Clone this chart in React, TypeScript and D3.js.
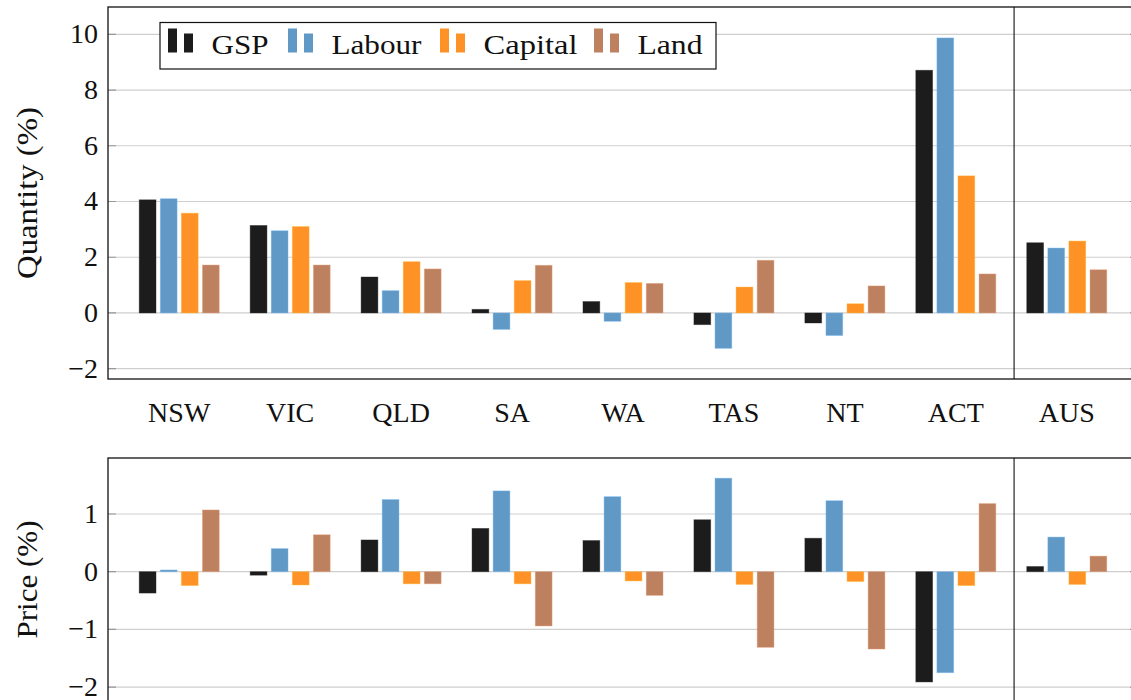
import { useRef, useEffect } from 'react'
import * as d3 from 'd3'

// regions along the x axis, AUS is split off by a vertical rule
const regions = ['NSW', 'VIC', 'QLD', 'SA', 'WA', 'TAS', 'NT', 'ACT', 'AUS']
const seriesNames = ['GSP', 'Labour', 'Capital', 'Land']
const colours = ['#1c1c1c', '#6098c6', '#fe9227', '#bd8160']

// top panel: quantity (%)
const quantityGSP = [4.06, 3.14, 1.29, 0.13, 0.41, -0.42, -0.36, 8.71, 2.52]
const quantityLabour = [4.1, 2.95, 0.8, -0.59, -0.3, -1.27, -0.81, 9.87, 2.33]
const quantityCapital = [3.58, 3.1, 1.84, 1.16, 1.09, 0.93, 0.33, 4.92, 2.58]
const quantityLand = [1.72, 1.72, 1.58, 1.71, 1.06, 1.89, 0.97, 1.4, 1.55]

// bottom panel: price (%)
const priceGSP = [-0.37, -0.06, 0.55, 0.75, 0.54, 0.9, 0.58, -1.91, 0.09]
const priceLabour = [0.03, 0.4, 1.25, 1.4, 1.3, 1.62, 1.23, -1.75, 0.6]
const priceCapital = [-0.24, -0.23, -0.21, -0.21, -0.16, -0.22, -0.17, -0.24, -0.22]
const priceLand = [1.07, 0.64, -0.21, -0.94, -0.41, -1.31, -1.34, 1.18, 0.27]

const quantityTicks = [-2, 0, 2, 4, 6, 8, 10]
const priceTicks = [-2, -1, 0, 1]

const font = '"Liberation Serif", "Times New Roman", serif'

const App = () => {
    const svgRef = useRef<SVGSVGElement>(null)

    useEffect(() => {
        const w = 1131
        const h = 700
        const svg = d3.select(svgRef.current)
            .attr('width', w)
            .attr('height', h)
        svg.selectAll('*').remove()

        const left = 108
        const right = 1138
        const x = d3.scaleLinear().domain([-0.642, 8.642]).range([left, right])
        // offset of each series inside a group, in category units
        const offset = d3.scaleLinear().domain([0, 3]).range([-0.285, 0.285])
        const halfBar = 0.0757

        const drawPanel = (
            top: number, bottom: number, domain: [number, number],
            ticks: number[], values: number[][], label: string, labelLen: number, showCats: boolean
        ) => {
            const y = d3.scaleLinear().domain(domain).range([bottom, top])
            const g = svg.append('g')

            // grid
            g.selectAll('.grid')
                .data(ticks)
                .join('line')
                .attr('x1', left).attr('x2', right)
                .attr('y1', d => y(d)).attr('y2', d => y(d))
                .attr('stroke', '#cfcfcf')
                .attr('stroke-width', 1.2)

            // bars
            values.forEach((vals, j) => {
                g.selectAll(null)
                    .data(vals)
                    .join('rect')
                    .attr('x', (d, i) => x(i + offset(j) - halfBar))
                    .attr('width', x(halfBar * 2) - x(0))
                    .attr('y', d => Math.min(y(d), y(0)))
                    .attr('height', d => Math.abs(y(d) - y(0)))
                    .attr('fill', colours[j])
                    .attr('stroke', d3.color(colours[j])!.brighter(0.6).formatHex())
                    .attr('stroke-opacity', 0.5)
                    .attr('stroke-width', 0.8)
            })

            // ticks, both sides, pointing inward
            g.selectAll(null)
                .data(ticks)
                .join('path')
                .attr('d', d => `M${left},${y(d)}h8M${right},${y(d)}h-8`)
                .attr('stroke', '#999')
                .attr('stroke-width', 1.2)

            // frame + separator before AUS
            g.append('rect')
                .attr('x', left).attr('y', top)
                .attr('width', right - left).attr('height', bottom - top)
                .attr('fill', 'none')
                .attr('stroke', '#111')
                .attr('stroke-width', 1.3)
            g.append('line')
                .attr('x1', x(7.525)).attr('x2', x(7.525))
                .attr('y1', top).attr('y2', bottom)
                .attr('stroke', '#111')
                .attr('stroke-width', 1.1)

            // tick labels
            g.selectAll(null)
                .data(ticks)
                .join('text')
                .attr('x', 98)
                .attr('y', d => y(d))
                .attr('dy', '0.32em')
                .attr('text-anchor', 'end')
                .attr('font-family', font)
                .attr('font-size', 28)
                .attr('fill', '#111')
                .text(d => d3.format('d')(d))

            // y label
            g.append('text')
                .attr('transform', `translate(37,${(top + bottom) / 2}) rotate(-90)`)
                .attr('text-anchor', 'middle')
                .attr('font-family', font)
                .attr('font-size', 29)
                .attr('fill', '#111')
                .attr('textLength', labelLen)
                .attr('lengthAdjust', 'spacingAndGlyphs')
                .text(label)

            if (showCats) {
                g.selectAll(null)
                    .data(regions)
                    .join('text')
                    .attr('x', (d, i) => x(i))
                    .attr('y', bottom + 43)
                    .attr('text-anchor', 'middle')
                    .attr('font-family', font)
                    .attr('font-size', 28)
                    .attr('fill', '#111')
                    .text(d => d)
            }
        }

        drawPanel(7, 379, [-2.37, 10.98], quantityTicks,
            [quantityGSP, quantityLabour, quantityCapital, quantityLand], 'Quantity (%)', 172, true)
        drawPanel(458, 701, [-2.24, 1.97], priceTicks,
            [priceGSP, priceLabour, priceCapital, priceLand], 'Price (%)', 118, false)

        // legend
        const legend = svg.append('g')
        legend.append('rect')
            .attr('x', 160).attr('y', 22.5)
            .attr('width', 556).attr('height', 46.5)
            .attr('fill', 'white')
            .attr('stroke', '#111')
            .attr('stroke-width', 1.2)
        const itemX = [168, 288, 440, 594]
        const textLen = [57, 90, 94, 65]
        seriesNames.forEach((name, j) => {
            const lx = itemX[j]
            legend.append('rect')
                .attr('x', lx).attr('y', 28.5)
                .attr('width', 9).attr('height', 24)
                .attr('fill', colours[j])
            legend.append('rect')
                .attr('x', lx + 16).attr('y', 33.5)
                .attr('width', 9).attr('height', 19)
                .attr('fill', colours[j])
            legend.append('text')
                .attr('x', lx + 43.5)
                .attr('y', 54)
                .attr('font-family', font)
                .attr('font-size', 28)
                .attr('fill', '#111')
                .attr('textLength', textLen[j])
                .attr('lengthAdjust', 'spacingAndGlyphs')
                .text(name)
        })
    }, [])

    return (
        <div>
            <svg ref={svgRef} style={{ position: 'absolute', left: 0, top: 0, background: 'white' }}></svg>
        </div>
    )
}

export default App
